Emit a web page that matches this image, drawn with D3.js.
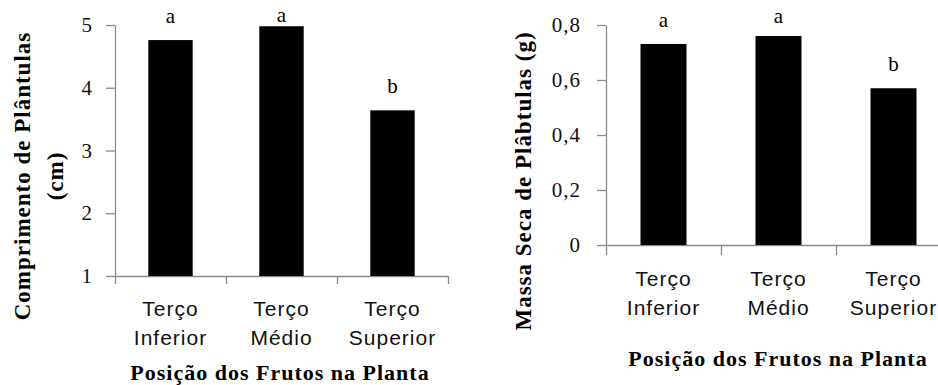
<!DOCTYPE html>
<html><head><meta charset="utf-8">
<script src="https://cdn.jsdelivr.net/npm/d3@7"></script>
<style>
body{margin:0;background:#fff;}
svg{display:block;}
</style></head>
<body>
<svg id="c" width="938" height="385"></svg>
<script>
const categories = [["Terço","Inferior"],["Terço","Médio"],["Terço","Superior"]];
const comprimento = [4.76, 4.98, 3.64];
const massaSeca = [0.731, 0.76, 0.57];
const lettersLeft = ["a","a","b"];
const lettersRight = ["a","a","b"];
const ticksLeft = [1,2,3,4,5];
const ticksRight = [0,0.2,0.4,0.6,0.8];
const xTitle = "Posição dos Frutos na Planta";
const yTitleLeft = ["Comprimento de Plântulas","(cm)"];
const yTitleRight = ["Massa Seca de Plâbtulas (g)"];

const svg = d3.select("#c");
const serif = "'Liberation Serif','Times New Roman',serif";
const sans = "'Liberation Sans',Arial,sans-serif";
const axisColor = "#8a8a8a";

function panel(o){
  const g = svg.append("g");
  const y = d3.scaleLinear().domain(o.domain).range([o.bottom, o.top]);
  const x = d3.scaleBand().domain(d3.range(o.values.length)).range([o.left, o.right]).paddingInner(0.6).paddingOuter(0.3);
  const xb = d3.scaleLinear().domain([0, o.values.length]).range([o.left, o.right]);

  // y axis
  const ya = g.append("g").attr("transform",`translate(${o.left},0)`)
    .call(d3.axisLeft(y).tickValues(o.ticks).tickSize(9).tickSizeOuter(0).tickPadding(o.tickPad).tickFormat(o.fmt));
  ya.select(".domain").attr("stroke",axisColor).attr("stroke-width",1.3);
  ya.selectAll(".tick line").attr("stroke",axisColor).attr("stroke-width",1.3);
  ya.selectAll(".tick text").attr("font-family",serif).attr("font-size",21).attr("fill","#111").attr("letter-spacing",1);

  // x axis (category boundaries)
  const xa = g.append("g").attr("transform",`translate(0,${o.bottom})`)
    .call(d3.axisBottom(xb).tickValues(d3.range(o.values.length+1)).tickSize(o.xTick).tickSizeOuter(0).tickFormat(""));
  xa.select(".domain").attr("stroke",axisColor).attr("stroke-width",1.3);
  xa.selectAll(".tick line").attr("stroke",axisColor).attr("stroke-width",1.3);

  // bars
  g.selectAll("rect.bar").data(o.values).join("rect").attr("class","bar")
    .attr("x",(d,i)=>x(i)).attr("width",x.bandwidth())
    .attr("y",d=>y(d)).attr("height",d=>o.bottom-y(d)).attr("fill","#000");

  // letters
  g.selectAll("text.let").data(o.values).join("text").attr("class","let")
    .attr("x",(d,i)=>x(i)+x.bandwidth()/2)
    .attr("y",d=>Math.max(y(d)-17,o.minLetY))
    .attr("text-anchor","middle").attr("font-family",serif).attr("font-size",21)
    .text((d,i)=>o.letters[i]);

  // category labels
  categories.forEach((c,i)=>{
    c.forEach((t,j)=>{
      g.append("text").attr("x",x(i)+x.bandwidth()/2).attr("y",o.catY+j*29)
        .attr("text-anchor","middle").attr("dominant-baseline","central")
        .attr("font-family",sans).attr("font-size",21).attr("letter-spacing",1)
        .attr("fill","#111").text(t);
    });
  });

  // x title
  g.append("text").attr("x",o.xTitleX).attr("y",o.xTitleY)
    .attr("text-anchor","middle").attr("dominant-baseline","central")
    .attr("font-family",serif).attr("font-weight","bold").attr("font-size",22).attr("letter-spacing",1)
    .text(xTitle);

  // y title
  o.yTitle.forEach((t,j)=>{
    g.append("text").attr("transform",`translate(${o.yTitleX[j]},${o.yTitleY}) rotate(-90)`)
      .attr("text-anchor","middle").attr("dominant-baseline","central")
      .attr("font-family",serif).attr("font-weight","bold").attr("font-size",23).attr("letter-spacing",1)
      .text(t);
  });
}

panel({values:comprimento, letters:lettersLeft, ticks:ticksLeft, domain:[1,5],
  left:115, right:448, top:25, bottom:276, tickPad:13, xTick:8,
  fmt:d=>d3.format("d")(d), minLetY:22, catY:308, xTitleX:280, xTitleY:372,
  yTitle:yTitleLeft, yTitleX:[22,55], yTitleY:176});

panel({values:massaSeca, letters:lettersRight, ticks:ticksRight, domain:[0,0.8],
  left:606, right:951, top:25, bottom:245, tickPad:16, xTick:10,
  fmt:d=>d===0?"0":d3.format(".1f")(d).replace(".",","), minLetY:23, catY:278, xTitleX:778, xTitleY:358,
  yTitle:yTitleRight, yTitleX:[523], yTitleY:181});
</script>
</body></html>
